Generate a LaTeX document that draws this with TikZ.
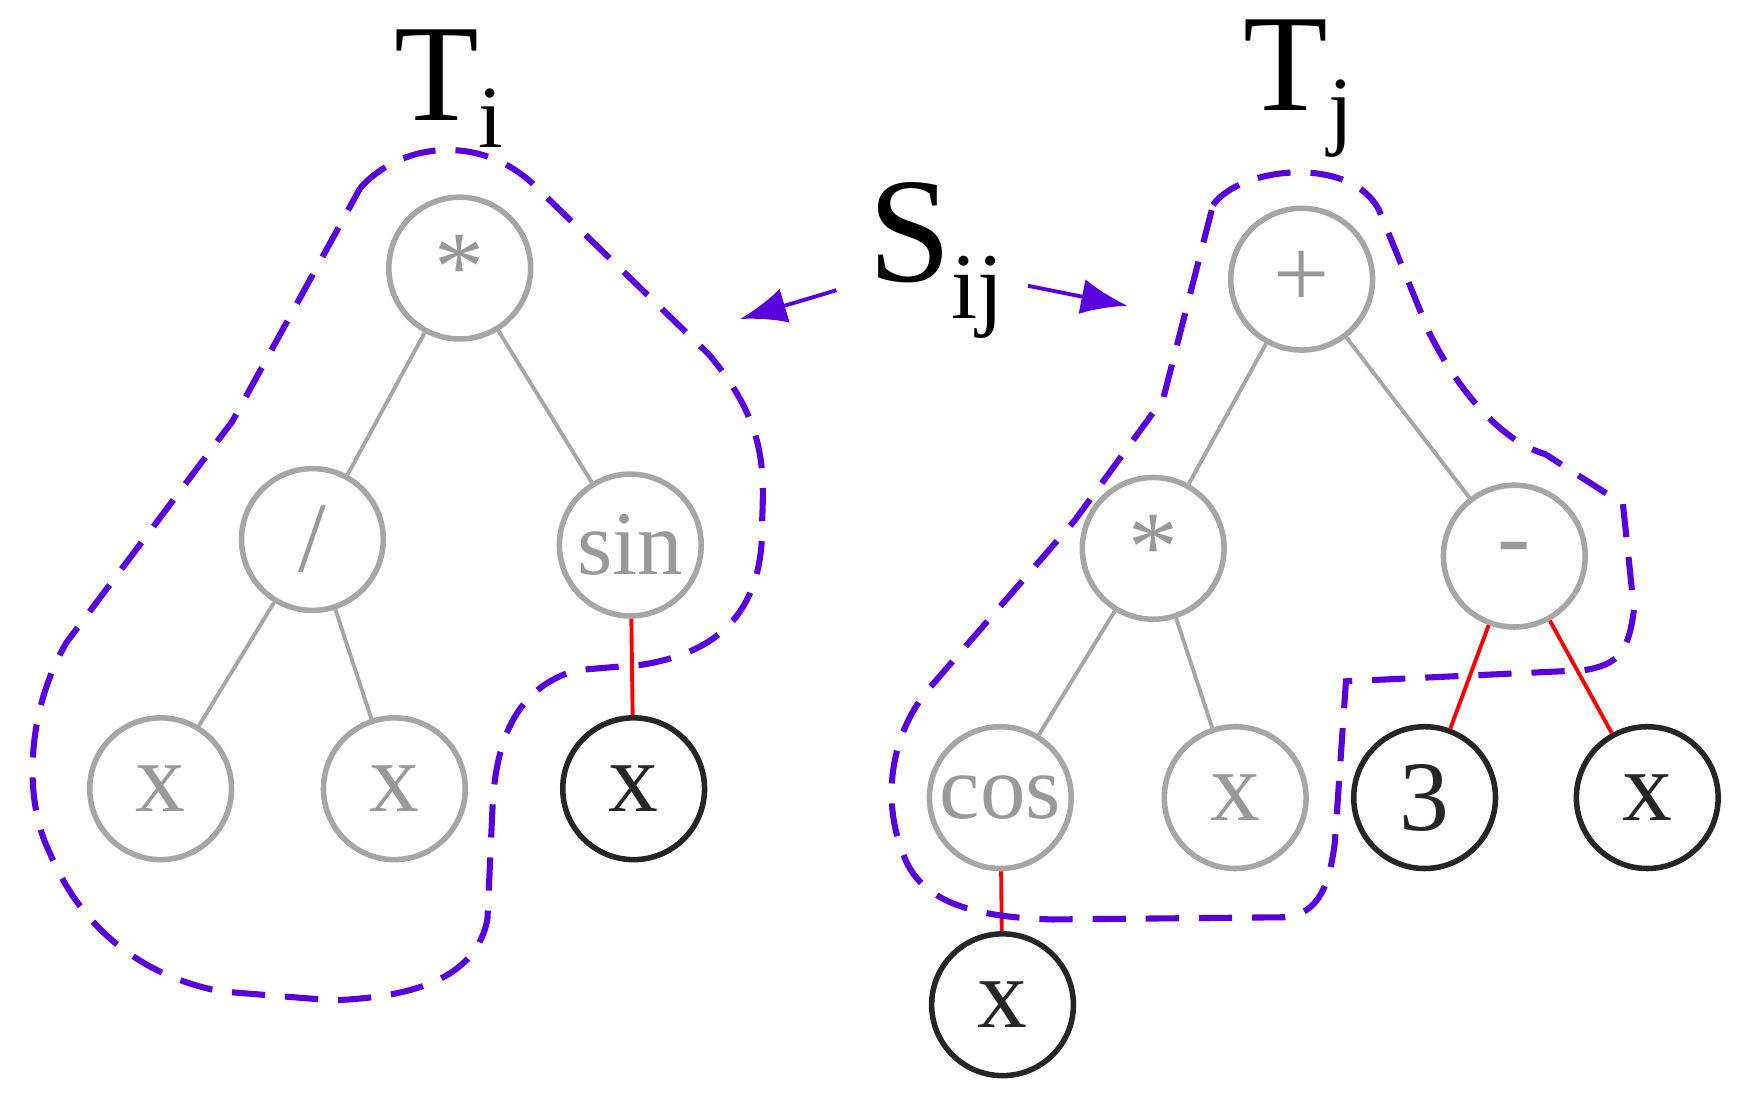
\documentclass[tikz,border=0pt]{standalone}
\usepackage{fontspec}
\setmainfont{Liberation Serif}
\usetikzlibrary{arrows.meta}
\definecolor{pv}{RGB}{90,0,220}
\begin{document}
\begin{tikzpicture}[x=1pt,y=-1pt,
  g/.style={circle,draw=black!35,line width=5pt,minimum size=128pt,inner sep=0pt,text=black!40,font=\fontsize{90}{90}\selectfont},
  b/.style={circle,draw=black!85,line width=5pt,minimum size=128pt,inner sep=0pt,text=black!85,font=\fontsize{90}{90}\selectfont},
  ge/.style={draw=black!35,line width=3.5pt},
  re/.style={draw=red,line width=3.5pt},
  pd/.style={draw=pv,line width=5.5pt,dash pattern=on 30pt off 18pt},
  pa/.style={draw=pv,line width=3.5pt,-{Latex[length=42pt,width=32pt]}}]
\useasboundingbox (0,0) rectangle (1568,992);
% left tree
\node[g] (m1) at (415,242) {*};
\node[g] (d1) at (282,487) {/};
\node[g,font=\fontsize{82}{82}\selectfont] (s1) at (569,492) {sin};
\node[g] (x1) at (145,712) {x};
\node[g] (x2) at (356,712) {x};
\node[b] (x3) at (572,712) {x};
\draw[ge] (m1)--(d1); \draw[ge] (m1)--(s1);
\draw[ge] (d1)--(x1); \draw[ge] (d1)--(x2);
\draw[re] (s1)--(x3);
% right tree
\node[g] (p2) at (1175,252) {+};
\node[g] (m2) at (1041,495) {*};
\node[g] (n2) at (1367,502) {-};
\node[g,font=\fontsize{82}{82}\selectfont] (c2) at (903,720) {cos};
\node[g] (x4) at (1115,720) {x};
\node[b] (t3) at (1286,720) {3};
\node[b] (x5) at (1487,720) {x};
\node[b] (x6) at (905,907) {x};
\draw[ge] (p2)--(m2); \draw[ge] (p2)--(n2);
\draw[ge] (m2)--(c2); \draw[ge] (m2)--(x4);
\draw[re] (c2)--(x6); \draw[re] (n2)--(t3); \draw[re] (n2)--(x5);
% labels
\node[font=\fontsize{125}{125}\selectfont] (Ti) at (405,80) {T\raisebox{-0.2em}{\fontsize{80}{80}\selectfont i}};
\node[font=\fontsize{125}{125}\selectfont] (Tj) at (1172,80) {T\raisebox{-0.2em}{\fontsize{80}{80}\selectfont j}};
\node[font=\fontsize{135}{135}\selectfont] (S) at (845,235) {S\raisebox{-0.25em}{\fontsize{85}{85}\selectfont ij}};
\coordinate (al) at (668,288);
\coordinate (ar) at (1018,276);
\draw[pa] (755,262) -- (al);
\draw[pa] (928,258) -- (ar);
% dashed regions
\draw[pd] (325,170) .. controls (360,130) and (430,120) .. (480,165)
  -- (640,320) .. controls (690,380) and (690,420) .. (688,470)
  .. controls (690,560) and (640,590) .. (580,600)
  -- (520,605) .. controls (470,620) and (450,660) .. (445,720)
  -- (440,830) .. controls (430,880) and (380,900) .. (300,903)
  -- (200,895) .. controls (120,880) and (70,830) .. (45,770)
  .. controls (20,720) and (25,640) .. (60,580)
  -- (210,380) -- (325,170);
\draw[pd] (1095,185) .. controls (1120,150) and (1220,140) .. (1245,190)
  -- (1290,300) .. controls (1320,360) and (1360,400) .. (1395,410)
  -- (1465,455) -- (1475,550) .. controls (1470,590) and (1460,600) .. (1430,605)
  -- (1215,615) -- (1205,760) .. controls (1200,800) and (1190,825) .. (1160,828)
  -- (950,830) .. controls (880,828) and (830,815) .. (815,770)
  .. controls (795,720) and (805,660) .. (840,620)
  -- (970,470) -- (1050,360) -- (1095,185);
\end{tikzpicture}
\end{document}
